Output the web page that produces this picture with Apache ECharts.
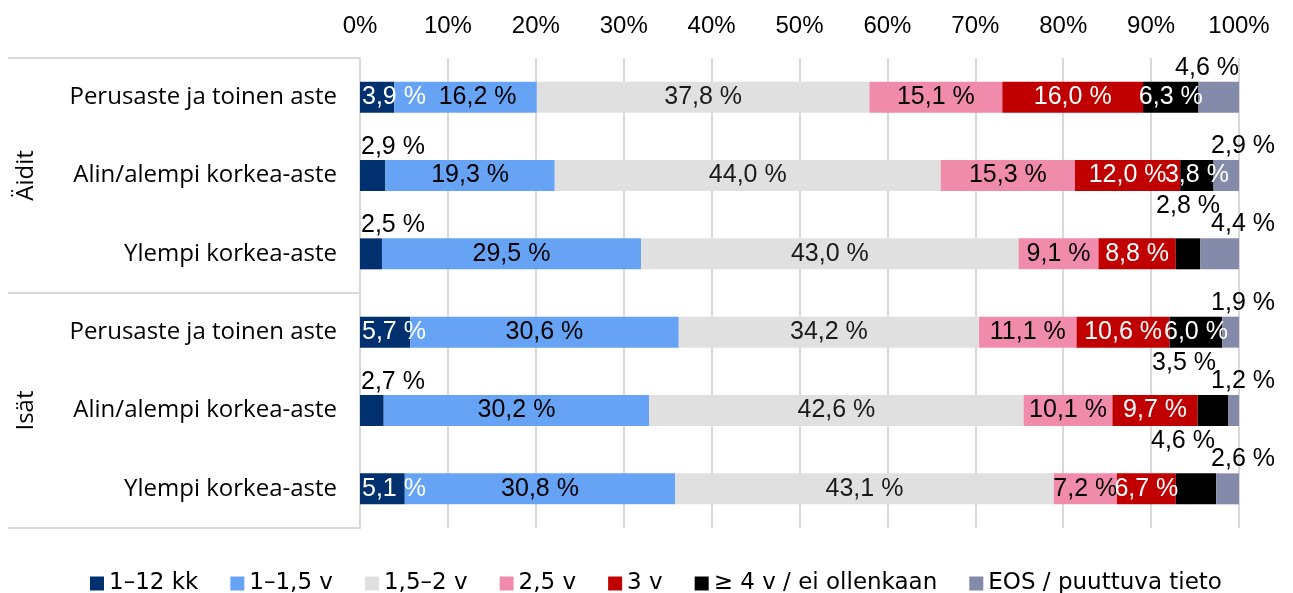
<!DOCTYPE html>
<html>
<head>
<meta charset="utf-8">
<script src="https://cdn.jsdelivr.net/npm/echarts@6/dist/echarts.min.js"></script>
<style>
  html, body { margin: 0; padding: 0; background: #fff; }
  #chart { width: 1293px; height: 593px; }
</style>
</head>
<body>
<div id="chart"></div>
<script>
// groups and rows (top to bottom)
const groups = ['Äidit', 'Isät'];
const levels = ['Perusaste ja toinen aste', 'Alin/alempi korkea-aste', 'Ylempi korkea-aste'];

const seriesNames = ['1–12 kk', '1–1,5 v', '1,5–2 v', '2,5 v', '3 v', '≥ 4 v / ei ollenkaan', 'EOS / puuttuva tieto'];

// % per row: Äidit x3, Isät x3
const v1to12kk = [3.9, 2.9, 2.5, 5.7, 2.7, 5.1];
const v1to15v  = [16.2, 19.3, 29.5, 30.6, 30.2, 30.8];
const v15to2v  = [37.8, 44.0, 43.0, 34.2, 42.6, 43.1];
const v25v     = [15.1, 15.3, 9.1, 11.1, 10.1, 7.2];
const v3v      = [16.0, 12.0, 8.8, 10.6, 9.7, 6.7];
const v4v      = [6.3, 3.8, 2.8, 6.0, 3.5, 4.6];
const vEos     = [4.6, 2.9, 4.4, 1.9, 1.2, 2.6];

const xTicks = [0, 10, 20, 30, 40, 50, 60, 70, 80, 90, 100];

const raw = [v1to12kk, v1to15v, v15to2v, v25v, v3v, v4v, vEos];
const colors = ['#00306e', '#66a3f5', '#e0e0e0', '#f18bac', '#c00000', '#000000', '#848baa'];
const insideColor = ['#fff', '#000', '#1a1a1a', '#000', '#fff', '#fff', '#fff'];

// category keys (unique) -> shown as level name
const cats = [];
groups.forEach(g => levels.forEach(l => cats.push(g + '|' + l)));

const fmt = v => v.toFixed(1).replace('.', ',') + ' %';

// 100% stacked, like excel
const rowSum = cats.map((c, r) => raw.reduce((a, arr) => a + arr[r], 0));

const labelFont = { fontFamily: 'Liberation Sans', fontSize: 25 };

function labelFor(s, r) {
  let lab = Object.assign({ show: true, formatter: fmt(raw[s][r]), color: insideColor[s] }, labelFont);
  if (s === 0) {
    if (raw[s][r] < 5 && r !== 0) {
      // small first segment -> above, left
      Object.assign(lab, { position: [1, -13], align: 'left', verticalAlign: 'middle', color: '#000' });
    } else {
      Object.assign(lab, { position: 'insideLeft', distance: 2 });
    }
  } else if (s === 5 && (r === 2 || r === 4 || r === 5)) {
    const dx = { 2: 0, 4: -29, 5: -13 }[r];
    Object.assign(lab, { position: ['50%', -32], align: 'center', verticalAlign: 'middle', offset: [dx, 0], color: '#000' });
  } else if (s === 6) {
    if (r === 0) {
      Object.assign(lab, { position: ['100%', -14], align: 'right', verticalAlign: 'middle', color: '#000' });
    } else {
      Object.assign(lab, { position: ['100%', -14], align: 'center', verticalAlign: 'middle', offset: [4, 0], color: '#000' });
    }
  } else {
    lab.position = 'inside';
    if (s === 1 && r === 0) lab.offset = [12, 0];
  }
  return lab;
}

const series = raw.map((arr, s) => ({
  name: seriesNames[s],
  type: 'bar',
  stack: 'total',
  barWidth: 31,
  yAxisIndex: 0,
  itemStyle: { color: colors[s] },
  emphasis: { disabled: true },
  data: arr.map((v, r) => ({
    value: v / rowSum[r] * 100,
    label: labelFor(s, r)
  }))
}));

const chart = echarts.init(document.getElementById('chart'));
chart.setOption({
  animation: false,
  textStyle: { fontFamily: 'Liberation Sans' },
  grid: { left: 360, right: 54, top: 58, bottom: 65 },
  xAxis: {
    type: 'value',
    position: 'top',
    min: 0,
    max: 100,
    interval: 10,
    axisLine: { show: false },
    axisTick: { show: false },
    splitLine: { lineStyle: { color: '#d9d9d9', width: 2 } },
    axisLabel: {
      margin: 20,
      color: '#000',
      fontFamily: 'Liberation Sans',
      fontSize: 24,
      formatter: v => xTicks.indexOf(v) >= 0 ? v + '%' : ''
    }
  },
  yAxis: [
    {
      type: 'category',
      inverse: true,
      data: cats,
      axisLine: { show: true, lineStyle: { color: '#d9d9d9', width: 2 } },
      axisTick: { show: false },
      axisLabel: {
        margin: 23,
        color: '#000',
        fontFamily: 'Open Sans',
        fontSize: 24,
        formatter: v => v.split('|')[1]
      }
    },
    {
      type: 'category',
      inverse: true,
      position: 'left',
      data: groups,
      axisLine: { show: false },
      axisTick: { show: true, length: 352, lineStyle: { color: '#d9d9d9', width: 2 } },
      axisLabel: {
        rotate: 90,
        margin: 322,
        color: '#000',
        fontFamily: 'Open Sans',
        fontSize: 24
      }
    }
  ],
  legend: {
    left: 85,
    top: 567,
    icon: 'rect',
    itemWidth: 14,
    itemHeight: 14,
    itemGap: 32,
    textStyle: { color: '#000', fontFamily: 'DejaVu Sans', fontSize: 23 },
    data: seriesNames
  },
  series: series
});
</script>
</body>
</html>
